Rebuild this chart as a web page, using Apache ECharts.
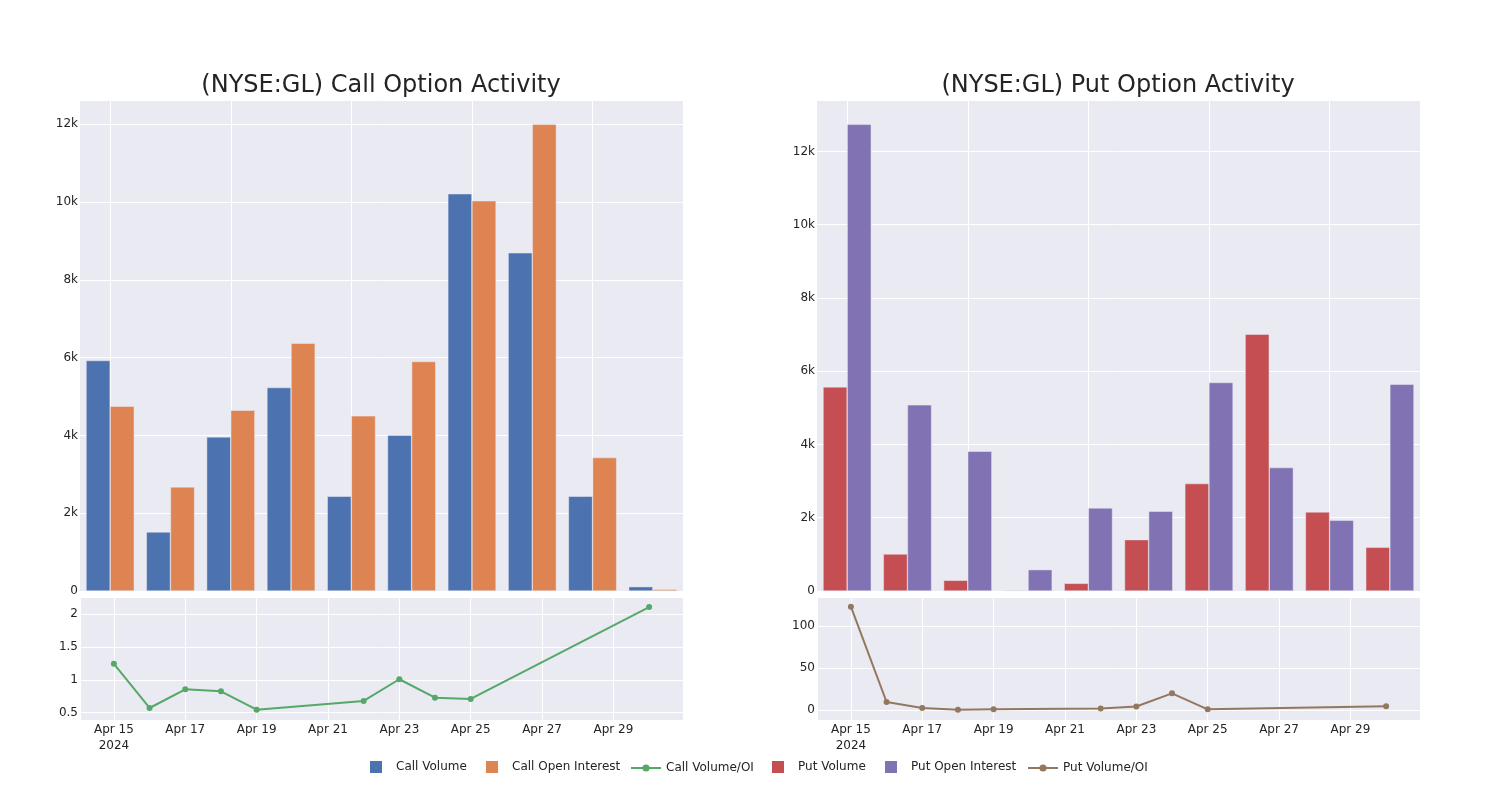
<!DOCTYPE html>
<html>
<head>
<meta charset="utf-8">
<script src="https://cdn.jsdelivr.net/npm/echarts@6/dist/echarts.min.js"></script>
<style>
html,body{margin:0;padding:0;background:#ffffff;}
#chart{width:1500px;height:800px;}
</style>
</head>
<body>
<div id="chart"></div>
<script>
// ---- data ----
const dates = ['2024-04-15','2024-04-16','2024-04-17','2024-04-18','2024-04-19','2024-04-22','2024-04-23','2024-04-24','2024-04-25','2024-04-30'];
const callVolume = [5926, 1518, 3962, 5231, 2436, 4005, 10214, 8696, 2436, 111];
const callOpenInterest = [4751, 2676, 4648, 6372, 4503, 5900, 10034, 11998, 3430, 43];
const callRatio = [1.245, 0.572, 0.856, 0.827, 0.546, 0.68, 1.01, 0.73, 0.71, 2.11];
const putVolume = [5572, 1011, 291, 18, 209, 1402, 2932, 7011, 2158, 1193];
const putOpenInterest = [12738, 5081, 3815, 583, 2267, 2176, 5691, 3369, 1930, 5645];
const putRatio = [123, 9.5, 2.4, 0.4, 0.8, 1.7, 4.1, 19.8, 0.8, 4.4];
const titles = ['(NYSE:GL) Call Option Activity', '(NYSE:GL) Put Option Activity'];
const monthNames = ['Jan','Feb','Mar','Apr','May','Jun','Jul','Aug','Sep','Oct','Nov','Dec'];

// ---- styling ----
const FONT = 'DejaVu Sans';
const TXT = '#242424';
const BG = '#eaeaf2';
const C = {cv:'#4c72b0', coi:'#dd8452', cr:'#55a868', pv:'#c44e52', poi:'#8172b3', pr:'#937860'};

const chart = echarts.init(document.getElementById('chart'), null, {renderer:'canvas'});

const tMin = new Date(2024,3,14,1,12).getTime();
const tMax = new Date(2024,3,30,22,48).getTime();

function gridDef(left, top, height){
  return {left:left, top:top, width:603, height:height, show:true, backgroundColor:BG, borderWidth:0, containLabel:false};
}
function catAxis(gi){
  return {type:'category', gridIndex:gi, data:dates, boundaryGap:true,
    axisLine:{show:false}, axisTick:{show:false, alignWithLabel:true}, axisLabel:{show:false},
    splitLine:{show:true, interval:1, alignWithLabel:true, lineStyle:{color:'#ffffff', width:1}}};
}
function timeAxis(gi){
  return {type:'time', gridIndex:gi, min:tMin, max:tMax, splitNumber:8,
    axisLine:{show:false}, axisTick:{show:false},
    axisLabel:{show:true, color:TXT, fontFamily:FONT, fontSize:12, margin:2, lineHeight:16,
      formatter:function(v){const d=new Date(v); const s=monthNames[d.getMonth()]+' '+d.getDate(); return (d.getDate()===15)? s+'\n2024' : s;}},
    splitLine:{show:true, lineStyle:{color:'#ffffff', width:1}}};
}
function valAxis(gi, min, max, extra){
  return Object.assign({type:'value', gridIndex:gi, min:min, max:max,
    axisLine:{show:false}, axisTick:{show:false},
    axisLabel:{color:TXT, fontFamily:FONT, fontSize:12, margin:2, showMaxLabel:false, showMinLabel:true},
    splitLine:{show:true, lineStyle:{color:'#ffffff', width:1}}}, extra||{});
}
const kFmt = function(v){ return v===0 ? '0' : (v/1000)+'k'; };

const yTopL = valAxis(0, 0, 12624, {interval:2000}); yTopL.axisLabel.formatter = kFmt;
const yTopR = valAxis(2, 0, 13403, {interval:2000}); yTopR.axisLabel.formatter = kFmt;
const yBotL = valAxis(1, 0.389, 2.264, {splitNumber:4}); yBotL.axisLabel.showMinLabel=false;
const yBotR = valAxis(3, -11.9, 134.5, {splitNumber:3}); yBotR.axisLabel.showMinLabel=false;

function barSeries(name, xi, yi, data, color){
  return {name:name, type:'bar', xAxisIndex:xi, yAxisIndex:yi, data:data, barGap:'0%', barCategoryGap:'20%',
    itemStyle:{color:color, borderColor:'#eaeaf2', borderWidth:0.5}};
}
function lineSeries(name, xi, yi, vals, color){
  return {name:name, type:'line', xAxisIndex:xi, yAxisIndex:yi,
    data:dates.map((d,i)=>[d, vals[i]]), symbol:'circle', symbolSize:6, showSymbol:true,
    lineStyle:{color:color, width:2}, itemStyle:{color:color}};
}
function legendDef(name, left, isLine){
  const l = {data:[name], left:left, top:761, padding:0, orient:'horizontal',
    textStyle:{color:TXT, fontFamily:FONT, fontSize:12}};
  if(isLine){ l.itemWidth=30; l.itemHeight=9; l.top=762; }
  else { l.itemWidth=12; l.itemHeight=12; l.icon='rect'; l.itemStyle={borderWidth:0}; l.textStyle.padding=[2,0,0,9]; }
  return l;
}

const option = {
  animation:false,
  backgroundColor:'#ffffff',
  title:[
    {text:titles[0], left:381, top:74, padding:0, textAlign:'center', textStyle:{color:TXT, fontFamily:FONT, fontSize:24, fontWeight:'normal'}},
    {text:titles[1], left:1118, top:74, padding:0, textAlign:'center', textStyle:{color:TXT, fontFamily:FONT, fontSize:24, fontWeight:'normal'}}
  ],
  legend:[
    legendDef('Call Volume', 370, false),
    legendDef('Call Open Interest', 486, false),
    legendDef('Call Volume/OI', 630, true),
    legendDef('Put Volume', 772, false),
    legendDef('Put Open Interest', 885, false),
    legendDef('Put Volume/OI', 1027, true)
  ],
  grid:[gridDef(80,100,491), gridDef(80,597,123), gridDef(817,100,491), gridDef(817,597,123)],
  xAxis:[catAxis(0), timeAxis(1), catAxis(2), timeAxis(3)],
  yAxis:[yTopL, yBotL, yTopR, yBotR],
  series:[
    barSeries('Call Volume', 0, 0, callVolume, C.cv),
    barSeries('Call Open Interest', 0, 0, callOpenInterest, C.coi),
    lineSeries('Call Volume/OI', 1, 1, callRatio, C.cr),
    barSeries('Put Volume', 2, 2, putVolume, C.pv),
    barSeries('Put Open Interest', 2, 2, putOpenInterest, C.poi),
    lineSeries('Put Volume/OI', 3, 3, putRatio, C.pr)
  ]
};
chart.setOption(option);
</script>
</body>
</html>
